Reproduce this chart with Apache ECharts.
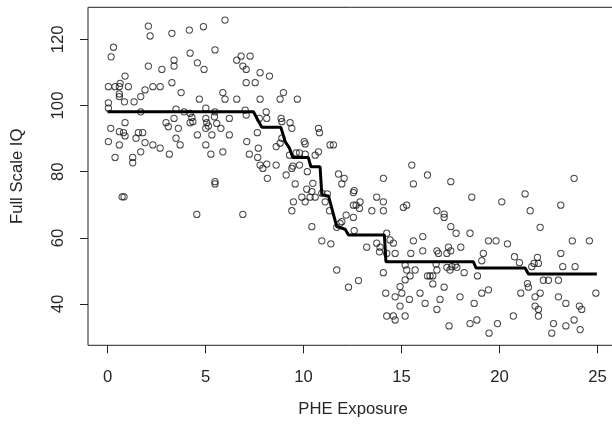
<!DOCTYPE html>
<html>
<head>
<meta charset="utf-8">
<script src="https://cdn.jsdelivr.net/npm/echarts@6/dist/echarts.min.js"></script>
<style>
html,body{margin:0;padding:0;background:#fff;}
#chart{width:612px;height:428px;}
</style>
</head>
<body>
<div id="chart"></div>
<script>
// PHE exposure (x) and Full Scale IQ (y) for each subject
var phe = [
2.08,2.17,3.28,4.17,4.89,5.99,0.30,0.18,5.48,4.21,2.08,2.77,3.39,3.39,4.58,4.92,6.59,6.81,6.90,7.07,
7.27,0.89,0.64,0.60,0.04,0.38,1.06,2.31,2.68,1.91,1.69,3.28,3.75,5.88,7.07,0.60,0.60,0.04,0.86,1.35,
4.68,5.99,6.59,0.04,1.69,3.49,3.90,4.21,5.01,5.48,5.45,7.02,7.07,0.16,0.60,0.81,0.89,0.89,1.57,1.79,
1.45,1.91,0.04,0.60,2.31,2.68,2.98,3.10,3.39,3.61,4.30,4.21,4.35,4.58,5.01,5.06,5.14,5.01,5.57,5.78,
6.21,5.32,6.21,3.49,3.70,5.01,5.88,5.27,3.15,1.69,0.38,1.28,1.28,5.48,5.48,0.74,0.84,7.10,7.23,4.55,
6.90,
7.78,8.26,7.53,8.97,8.80,7.78,9.68,8.09,8.12,7.74,8.85,8.89,9.31,9.40,7.64,7.69,10.76,10.81,8.89,8.60,
8.80,10.03,10.08,9.62,9.79,9.28,10.08,10.59,10.76,11.35,11.52,7.78,7.92,8.12,8.60,9.45,9.40,9.79,10.19,9.11,
8.15,9.57,10.47,10.16,11.78,12.07,11.95,12.58,14.07,15.52,15.60,16.32,7.66,10.42,17.51,23.80,
9.48,9.40,9.91,10.08,10.33,10.59,10.93,11.10,11.32,11.21,10.42,10.93,11.39,11.69,12.29,12.80,12.17,12.54,12.54,12.68,
12.88,12.85,12.54,11.95,11.86,12.58,11.69,13.22,13.48,13.73,14.07,14.07,15.09,15.26,14.24,14.41,14.58,13.73,13.90,13.87,
14.24,14.67,14.07,15.18,15.26,15.43,15.69,15.18,15.60,16.08,16.08,15.47,14.92,15.01,14.67,14.19,15.40,14.92,15.94,16.20,
14.24,14.58,15.18,14.67,
18.58,20.11,21.30,16.80,17.17,17.17,21.56,23.12,22.07,17.51,17.78,18.49,16.80,16.88,17.31,17.51,17.39,18.02,19.43,19.82,
20.40,19.17,19.09,20.76,21.01,21.76,21.93,21.98,21.64,23.12,23.22,23.85,23.71,24.58,16.76,16.80,17.31,17.56,17.73,17.82,
17.47,18.19,18.87,16.32,16.45,16.59,16.59,17.17,21.42,21.47,22.23,22.49,23.00,16.96,16.80,17.98,18.70,19.09,19.43,21.08,
21.81,22.07,21.81,21.98,21.98,23.00,23.38,24.07,24.19,24.91,20.70,19.89,19.46,18.49,18.84,17.42,22.75,22.66,23.38,23.80,
24.11
];
var iq = [
124.0,121.0,121.8,122.8,123.8,125.8,117.6,114.7,116.8,115.8,111.9,110.9,113.7,111.9,112.9,110.9,113.7,114.9,111.9,110.9,
114.9,108.9,106.7,105.7,105.7,105.7,105.7,105.7,105.7,104.7,102.7,106.9,103.9,103.9,106.9,103.5,102.7,100.8,101.1,101.1,
101.9,101.9,101.9,99.2,98.1,98.9,98.1,97.6,99.2,98.1,96.6,98.6,97.1,93.1,92.1,91.8,90.8,94.8,91.8,91.8,
90.1,88.8,89.1,88.1,88.1,87.1,94.8,93.6,96.1,93.1,96.4,94.8,95.1,91.1,96.1,94.8,93.8,93.1,94.6,93.1,
96.1,91.1,91.1,90.1,88.1,88.1,86.0,85.3,85.3,86.0,84.3,84.3,82.7,77.0,76.3,72.4,72.4,89.1,85.3,67.1,
67.1,
109.9,108.9,106.9,103.9,101.9,101.9,101.9,98.1,96.1,96.1,96.1,95.1,94.8,93.1,91.8,87.1,93.1,91.8,90.1,87.6,
88.6,89.1,88.4,85.7,85.7,85.0,85.3,85.0,86.0,88.1,88.1,82.0,81.0,82.3,82.0,81.7,81.0,82.0,80.0,79.0,
78.0,76.3,76.5,74.7,79.3,78.0,76.3,74.3,78.0,82.0,76.3,79.0,84.3,74.0,77.0,78.0,
70.9,68.2,72.3,70.9,72.3,72.3,73.5,70.9,68.2,73.3,63.4,59.1,58.2,50.3,45.1,47.1,66.9,66.2,69.9,69.9,
70.9,68.9,73.7,64.9,64.4,62.2,63.2,57.2,68.2,72.3,70.9,68.2,69.2,69.9,61.4,59.4,58.4,58.4,57.2,55.8,
55.3,55.3,49.5,51.8,50.3,48.5,50.3,47.3,59.1,60.4,56.1,55.3,45.3,43.3,42.2,43.3,41.4,39.4,43.3,40.2,
36.4,36.4,36.4,35.2,
72.3,70.9,73.3,68.2,67.2,66.2,68.2,69.9,63.2,63.4,61.4,61.4,56.1,55.3,55.3,56.1,57.2,57.2,59.1,59.1,
58.2,55.3,53.1,54.3,52.5,52.3,54.1,52.3,51.3,55.3,51.3,51.3,59.1,59.1,52.1,50.3,51.1,51.3,51.8,51.1,
50.3,49.5,48.5,48.5,48.5,48.5,46.1,45.1,46.2,45.1,47.2,47.2,47.2,41.4,38.4,42.2,40.2,43.3,44.3,43.3,
42.2,43.3,39.4,38.4,36.4,42.2,40.2,39.4,38.4,43.3,36.4,34.1,31.2,34.1,35.2,33.4,34.1,31.2,33.4,35.2,
32.3
];
// Fitted step curve
var stepX = [0, 7.44, 7.87, 8.84, 9.06, 9.28, 9.45, 10.24, 10.37, 10.84, 10.93, 11.27, 11.69, 12.12, 12.29, 14.12, 14.2, 18.66, 18.8, 21.30, 21.47, 24.96];
var stepY = [98.1, 98.1, 93.4, 93.4, 89.1, 87.1, 84.3, 84.3, 81.5, 81.5, 73.0, 72.7, 63.4, 62.6, 60.9, 60.9, 52.8, 52.8, 50.9, 50.9, 49.1, 49.1];
var xTicks = [0, 5, 10, 15, 20, 25];
var yTicks = [40, 60, 80, 100, 120];

var points = phe.map(function (x, i) { return [x, iq[i]]; });
var stepLine = stepX.map(function (x, i) { return [x, stepY[i]]; });

var FONT = "'Liberation Sans', Arial, sans-serif";
var TXT = '#262626';
var chart = echarts.init(document.getElementById('chart'), null, {renderer: 'canvas'});
chart.setOption({
  animation: false,
  backgroundColor: '#fff',
  grid: {
    left: 88, top: 7.3, width: 530, height: 338,
    show: true, borderColor: '#222', borderWidth: 1, backgroundColor: 'transparent',
    containLabel: false, outerBoundsMode: 'none'
  },
  xAxis: {
    type: 'value', min: -1, max: 26.04,
    name: 'PHE Exposure', nameLocation: 'middle', nameGap: 56,
    nameTextStyle: {fontFamily: FONT, fontSize: 16.7, color: TXT},
    axisLine: {show: false, onZero: false},
    axisTick: {show: true, inside: false, length: 8, customValues: xTicks, lineStyle: {color: '#222', width: 1}},
    axisLabel: {show: true, margin: 24, customValues: xTicks, fontFamily: FONT, fontSize: 16.7, color: TXT},
    splitLine: {show: false}
  },
  yAxis: {
    type: 'value', min: 27.55, max: 129.67,
    name: 'Full Scale IQ', nameLocation: 'middle', nameGap: 62, nameRotate: 90,
    nameTextStyle: {fontFamily: FONT, fontSize: 16.7, color: TXT},
    axisLine: {show: false, onZero: false},
    axisTick: {show: true, inside: false, length: 8, customValues: yTicks, lineStyle: {color: '#222', width: 1}},
    axisLabel: {show: true, margin: 21, rotate: 90, customValues: yTicks, fontFamily: FONT, fontSize: 16.7, color: TXT},
    splitLine: {show: false}
  },
  series: [
    {
      type: 'scatter',
      data: points,
      symbol: 'circle',
      symbolSize: 6.3,
      itemStyle: {color: 'rgba(0,0,0,0)', borderColor: '#1a1a1a', borderWidth: 1},
      emphasis: {disabled: true},
      z: 2
    },
    {
      type: 'line',
      data: stepLine,
      symbol: 'none',
      lineStyle: {color: '#000', width: 3},
      emphasis: {disabled: true},
      z: 3
    }
  ]
});
</script>
</body>
</html>
